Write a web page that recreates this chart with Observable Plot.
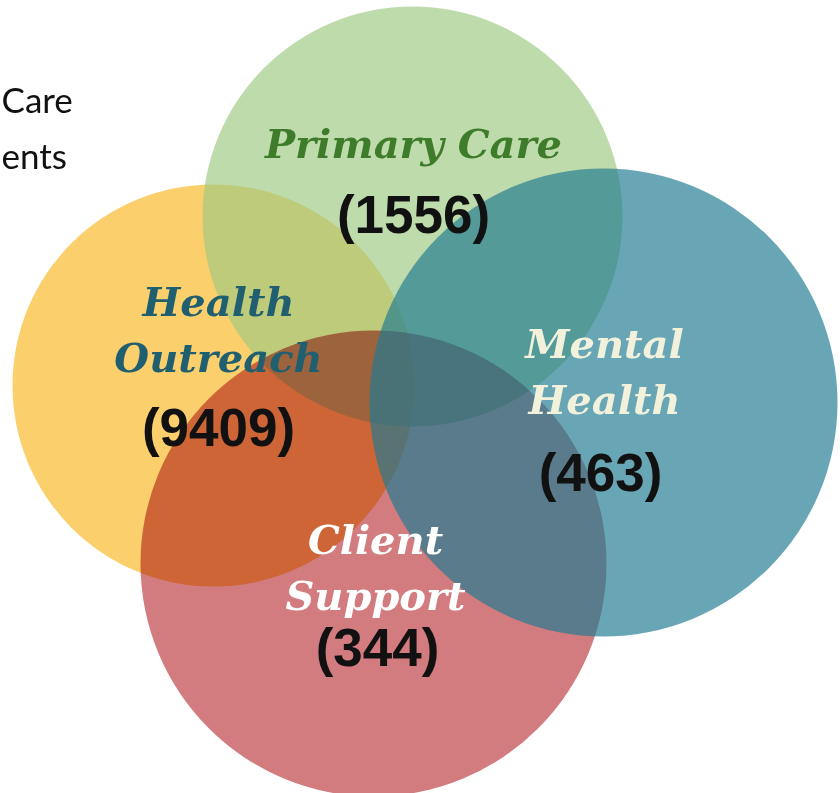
<!DOCTYPE html>
<html>
<head>
<meta charset="utf-8">
<script src="https://cdn.jsdelivr.net/npm/d3@7"></script>
<script src="https://cdn.jsdelivr.net/npm/@observablehq/plot@0.6"></script>
<style>
  html, body { margin: 0; padding: 0; background: #fff; }
  #chart { width: 840px; height: 793px; overflow: hidden; }
</style>
</head>
<body>
<div id="chart"></div>
<script>
// ---- data ----
const sets = ["Health Outreach", "Primary Care", "Client Support", "Mental Health"];
const counts = [9409, 1556, 344, 463];
const labelLines = [["Health", "Outreach"], ["Primary Care"], ["Client", "Support"], ["Mental", "Health"]];
const headingFragments = ["Care", "ents"];

// ---- layout (Venn geometry, in pixel units) ----
const centerX = [213, 412, 373, 603];
const centerY = [385, 216, 563, 402];
const radius  = [201, 210, 233, 234];
const fills   = ["#fbcf6c", "#9ec982", "#d27c80", "#1f7a91"];
const opac    = [1, 0.67, 1, 0.67];
const blend   = ["normal", "normal", "multiply", "normal"];
const labelColor = ["#1f5f6f", "#3e7b2b", "#ffffff", "#f1f1dc"];
const labelY0 = [315, 157, 553, 357];
const countY  = [445, 232, 665, 490];
const labelX  = [218, 413, 375, 604];
const countX  = [218, 413, 377, 600];

const circles = sets.map((s, i) => ({set: s, x: centerX[i], y: centerY[i], r: radius[i], fill: fills[i], op: opac[i], blend: blend[i]}));
const labels = [];
sets.forEach((s, i) => labelLines[i].forEach((t, j) => labels.push({text: t, x: labelX[i], y: labelY0[i] + j * 56, color: labelColor[i]})));
const nums = sets.map((s, i) => ({text: `(${counts[i]})`, x: countX[i], y: countY[i]}));
const heading = headingFragments.map((t, i) => ({text: t, x: 1, y: [112, 168][i]}));

const marks = circles.map(c => Plot.dot([c], {x: "x", y: "y", r: "r", fill: c.fill, fillOpacity: c.op, stroke: "none", mixBlendMode: c.blend}));

marks.push(Plot.text(labels, {x: "x", y: "y", text: "text", fill: d => d.color, textAnchor: "middle", lineAnchor: "bottom",
  fontFamily: "DejaVu Serif", fontStyle: "italic", fontWeight: "bold", fontSize: 40}));
marks.push(Plot.text(nums, {x: "x", y: "y", text: "text", fill: "#111", textAnchor: "middle", lineAnchor: "bottom",
  fontFamily: "Liberation Sans", fontWeight: "bold", fontSize: 53}));
marks.push(Plot.text(heading, {x: "x", y: "y", text: "text", fill: "#111", textAnchor: "start", lineAnchor: "bottom",
  fontFamily: "Lato", fontWeight: 400, fontSize: 35}));

const chart = Plot.plot({
  width: 840, height: 793, margin: 0,
  x: {domain: [0, 840], range: [0, 840], axis: null},
  y: {domain: [0, 793], range: [0, 793], axis: null},
  r: {type: "identity"},
  style: {background: "#fff", overflow: "hidden"},
  marks
});
document.getElementById("chart").appendChild(chart);
</script>
</body>
</html>
